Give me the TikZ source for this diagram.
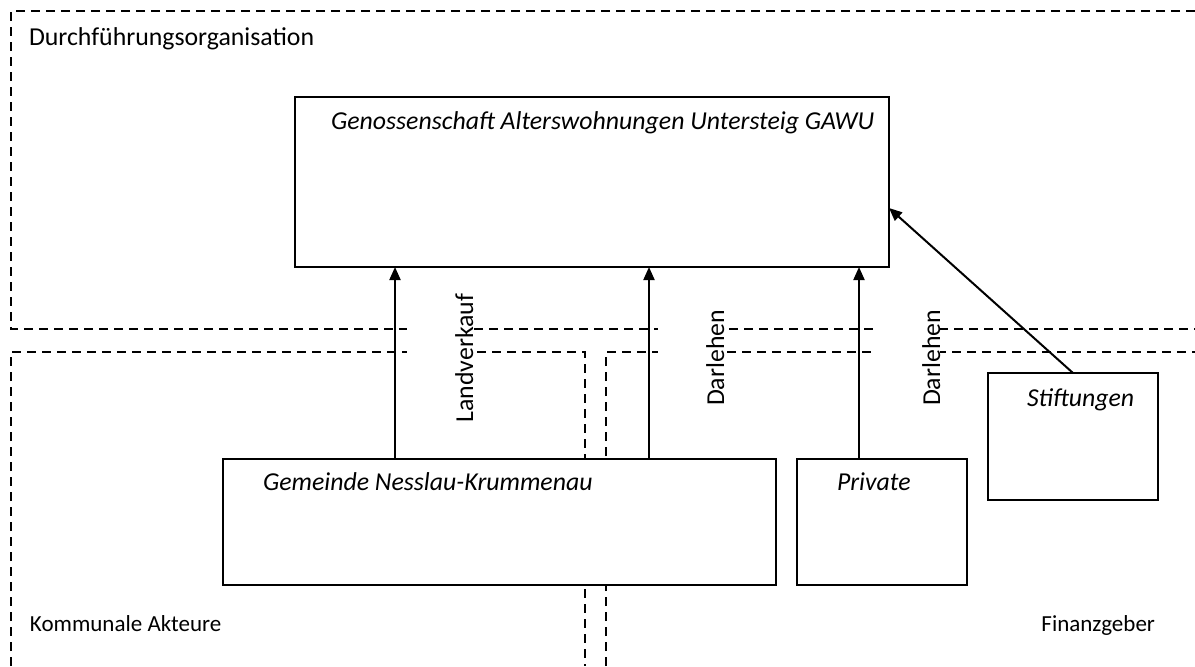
\documentclass[tikz,border=0pt]{standalone}
\usepackage{fontspec}
\setmainfont{Carlito}
\usetikzlibrary{arrows.meta,calc}
\begin{document}
\begin{tikzpicture}[x=0.5pt,y=-0.5pt,
  every node/.style={font=\fontsize{12.9}{15.5}\selectfont, inner sep=0pt, outer sep=0pt},
  region/.style={line width=1pt, dash pattern=on 4.5pt off 3pt},
  box/.style={draw, fill=white, line width=1pt, anchor=north west},
  boxtext/.style={anchor=base west, font=\fontsize{12.9}{15.5}\selectfont\itshape},
  flow/.style={line width=1pt, -{Triangle[length=6.5pt,width=5.5pt]}},
  flowlabel/.style={rotate=90, anchor=base, fill=white},
  grouplabel/.style={anchor=base west},
  smalllabel/.style={font=\fontsize{11.5}{14}\selectfont}]
\useasboundingbox (0,0) rectangle (1195,666);

% dashed regions
\draw[region] (1195,11) -- (11,11) -- (11,329) -- (1195,329);
\draw[region] (11,666) -- (11,352) -- (585,352) -- (585,666);
\draw[region] (606,666) -- (606,352) -- (1195,352);

% region labels
\node[grouplabel] (lblD) at (29,45) {Durchführungsorganisation};
\node[grouplabel, smalllabel] (lblK) at (30,631) {Kommunale Akteure};
\node[anchor=base east, smalllabel] (lblF) at (1155,631) {Finanzgeber};

% boxes
\node[box, minimum width=297pt, minimum height=85pt] (gawu) at (295,97) {};
\node[boxtext] (gawuT) at (331,129) {Genossenschaft Alterswohnungen Untersteig GAWU};
\node[box, minimum width=276.5pt, minimum height=63pt] (gem) at (223,459) {};
\node[boxtext] (gemT) at (263,490) {Gemeinde Nesslau-Krummenau};
\node[box, minimum width=85pt, minimum height=63pt] (priv) at (797,459) {};
\node[boxtext] (privT) at (837,490) {Private};
\node[box, minimum width=85pt, minimum height=63.5pt] (stift) at (988,373) {};
\node[boxtext] (stiftT) at (1027,406) {Stiftungen};

% flows
\coordinate (x1) at (395,0);
\coordinate (x2) at (649,0);
\coordinate (x3) at (859,0);
\coordinate (s1) at (1073,0);
\coordinate (s2) at (0,208);
\draw[flow] (x1 |- gem.north) -- (x1 |- gawu.south);
\draw[flow] (x2 |- gem.north) -- (x2 |- gawu.south);
\draw[flow] (x3 |- priv.north) -- (x3 |- gawu.south);
\draw[flow] (s1 |- stift.north) -- (gawu.east |- s2);

% flow labels
\node[flowlabel] (lv) at (473,358) {\rule{0pt}{33pt}Landverkauf};
\node[flowlabel] (d1) at (724,358) {\rule{0pt}{33pt}Darlehen};
\node[flowlabel] (d2) at (940,358) {\rule{0pt}{33.5pt}Darlehen};
\end{tikzpicture}
\end{document}
